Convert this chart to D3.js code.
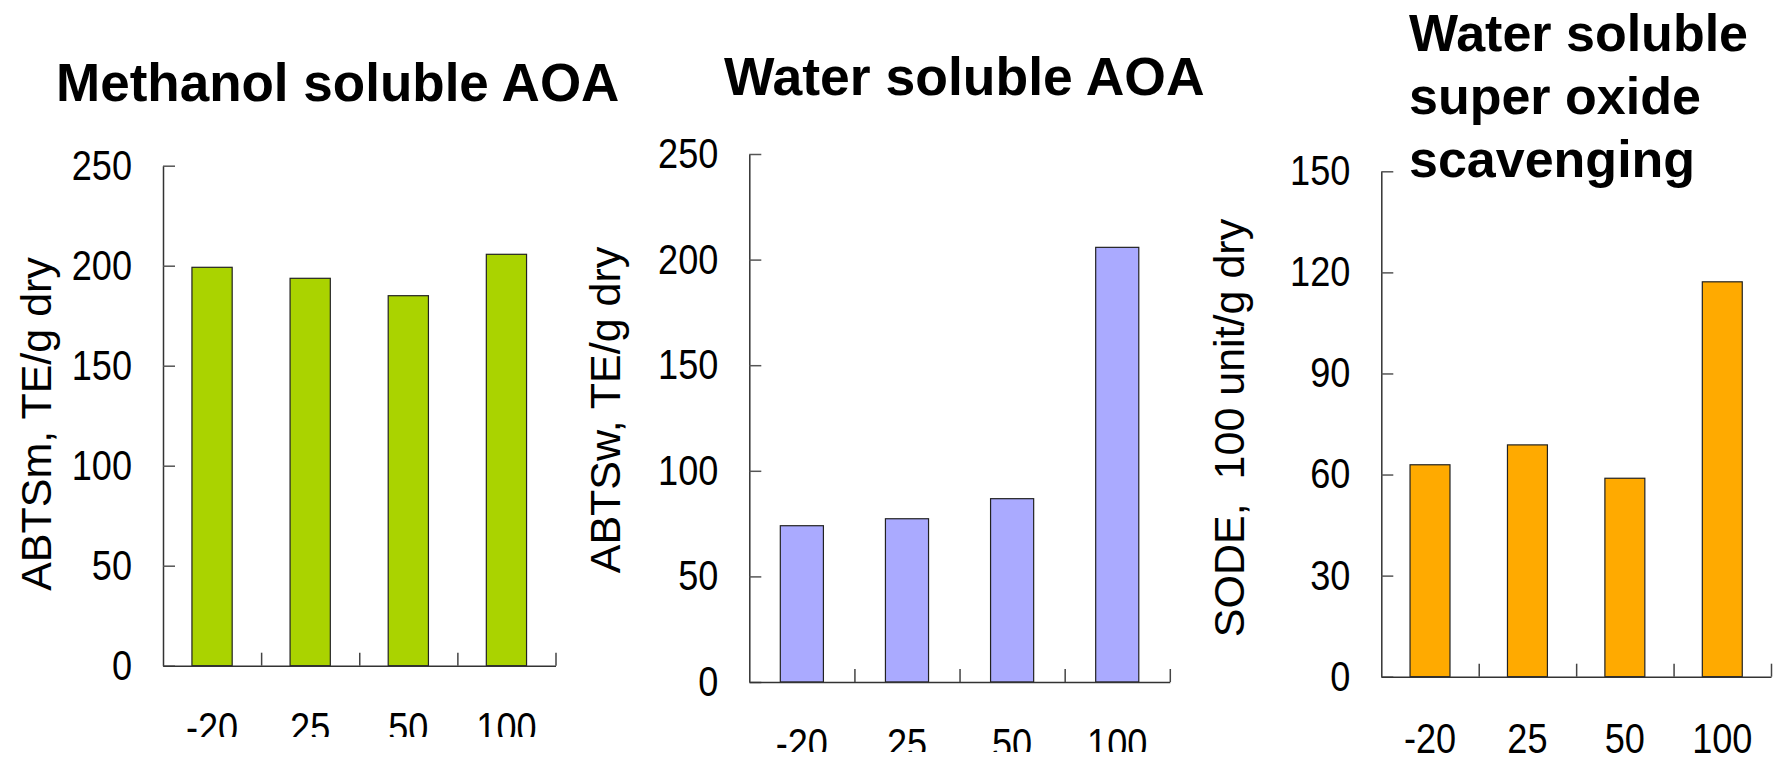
<!DOCTYPE html>
<html>
<head>
<meta charset="utf-8">
<script src="https://cdn.jsdelivr.net/npm/d3@7"></script>
<style>
  html, body { margin: 0; padding: 0; background: #fff; }
  svg { display: block; font-family: "Liberation Sans", Arial, sans-serif; }
</style>
</head>
<body>
<svg id="chart" width="1774" height="763"></svg>
<script>
// ---- data ----
const categories = ["-20", "25", "50", "100"];
const methanolAOA = [199.2, 193.7, 185.0, 205.7];
const waterAOA = [74.0, 77.3, 86.8, 205.8];
const waterSODE = [62.9, 68.8, 58.9, 117.2];
const ticksAOA = [0, 50, 100, 150, 200, 250];
const ticksSODE = [0, 30, 60, 90, 120, 150];
const titleMethanol = ["Methanol soluble AOA"];
const titleWater = ["Water soluble AOA"];
const titleSODE = ["Water soluble", "super oxide", "scavenging"];
const labelMethanol = "ABTSm, TE/g dry";
const labelWater = "ABTSw, TE/g dry";
const labelSODE = "SODE,  100 unit/g dry";

// ---- layout ----
const panels = [
  { values: methanolAOA, ticks: ticksAOA, max: 250, fill: "#aad300",
    x0: 163, x1: 555.5, yTop: 165.7, yBot: 665.7,
    title: titleMethanol, tx: 56, ty: 101, tsize: 53, tlh: 63,
    ylabel: labelMethanol, lx: 51, ly: 424, clipBottom: 737 },
  { values: waterAOA, ticks: ticksAOA, max: 250, fill: "#aaaaff",
    x0: 749.3, x1: 1169.8, yTop: 154, yBot: 682,
    title: titleWater, tx: 724, ty: 95, tsize: 53.5, tlh: 63,
    ylabel: labelWater, lx: 620, ly: 410, clipBottom: 752 },
  { values: waterSODE, ticks: ticksSODE, max: 150, fill: "#ffaa00",
    x0: 1381.3, x1: 1771, yTop: 171.3, yBot: 676.7,
    title: titleSODE, tx: 1409, ty: 51, tsize: 52, tlh: 63,
    ylabel: labelSODE, lx: 1244, ly: 428, clipBottom: 763 }
];

const svg = d3.select("#chart");
const defs = svg.append("defs");
const condense = 0.86;

panels.forEach((p, i) => {
  const g = svg.append("g");
  const x = d3.scaleBand().domain(categories).range([p.x0, p.x1])
    .paddingInner(0.59).paddingOuter(0.295);
  const y = d3.scaleLinear().domain([0, p.max]).range([p.yBot, p.yTop]);
  const xb = d3.scaleLinear().domain([0, categories.length]).range([p.x0, p.x1]);

  // bars
  g.selectAll("rect.bar").data(p.values).join("rect")
    .attr("class", "bar")
    .attr("x", (d, j) => x(categories[j]))
    .attr("width", x.bandwidth())
    .attr("y", d => y(d))
    .attr("height", d => y(0) - y(d))
    .attr("fill", p.fill)
    .attr("stroke", "#222")
    .attr("stroke-width", 1.2);

  // y axis
  const ya = g.append("g").attr("transform", `translate(${p.x0},0)`)
    .call(d3.axisLeft(y).tickValues(p.ticks).tickSizeInner(-12).tickSizeOuter(0).tickPadding(31));
  ya.select(".domain").attr("stroke", "#333").attr("stroke-width", 1.5);
  ya.selectAll(".tick line").attr("stroke", "#555").attr("stroke-width", 1.5);
  ya.selectAll(".tick text")
    .attr("font-size", 42).attr("fill", "#000")
    .attr("font-family", "Liberation Sans, Arial, sans-serif")
    .each(function() {
      const t = d3.select(this);
      const tx = +t.attr("x");
      t.attr("x", 0).attr("transform", `translate(${tx},0) scale(${condense},1)`);
    });

  // x axis line + boundary ticks
  const xa = g.append("g").attr("transform", `translate(0,${p.yBot})`)
    .call(d3.axisBottom(xb).tickValues([1, 2, 3, 4]).tickFormat("").tickSizeInner(-13).tickSizeOuter(0));
  xa.select(".domain").attr("stroke", "#333").attr("stroke-width", 1.5);
  xa.selectAll(".tick line").attr("stroke", "#444").attr("stroke-width", 1.5);

  // x labels (clipped at the bottom like the source)
  defs.append("clipPath").attr("id", "clip" + i)
    .append("rect").attr("x", 0).attr("y", 0).attr("width", 1774).attr("height", p.clipBottom);
  const xl = g.append("g").attr("clip-path", `url(#clip${i})`)
    .append("g").attr("transform", `translate(0,${p.yBot})`)
    .call(d3.axisBottom(x).tickSize(0).tickPadding(46));
  xl.select(".domain").remove();
  xl.selectAll(".tick text")
    .attr("font-size", 42).attr("fill", "#000")
    .attr("font-family", "Liberation Sans, Arial, sans-serif")
    .each(function() {
      const t = d3.select(this);
      const ty = +t.attr("y");
      t.attr("y", 0).attr("transform", `translate(0,${ty}) scale(${condense},1)`);
    });

  // title
  const tt = svg.append("text")
    .attr("font-size", p.tsize).attr("font-weight", "bold").attr("fill", "#000");
  p.title.forEach((line, k) => {
    tt.append("tspan").attr("x", p.tx).attr("y", p.ty + k * p.tlh).text(line);
  });

  // y label
  svg.append("text")
    .attr("transform", `translate(${p.lx},${p.ly}) rotate(-90)`)
    .attr("text-anchor", "middle")
    .attr("font-size", 43).attr("fill", "#000")
    .style("white-space", "pre")
    .text(p.ylabel);
});
</script>
</body>
</html>
